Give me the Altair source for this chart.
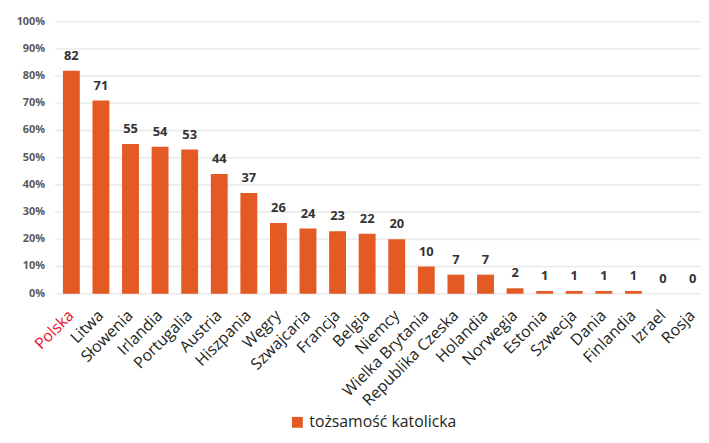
import altair as alt
import pandas as pd

countries = ["Polska", "Litwa", "Słowenia", "Irlandia", "Portugalia", "Austria",
             "Hiszpania", "Węgry", "Szwajcaria", "Francja", "Belgia", "Niemcy",
             "Wielka Brytania", "Republika Czeska", "Holandia", "Norwegia",
             "Estonia", "Szwecja", "Dania", "Finlandia", "Izrael", "Rosja"]
values = [82, 71, 55, 54, 53, 44, 37, 26, 24, 23, 22, 20, 10, 7, 7, 2, 1, 1, 1, 1, 0, 0]
series_name = "tożsamość katolicka"
y_ticks = [0, 10, 20, 30, 40, 50, 60, 70, 80, 90, 100]
y_tick_labels = ["0%", "10%", "20%", "30%", "40%", "50%", "60%", "70%", "80%", "90%", "100%"]

df = pd.DataFrame({"kraj": countries, "wartosc": values, "seria": series_name})
ticks_df = pd.DataFrame({"wartosc": y_ticks, "etykieta": y_tick_labels})

BAR = "#e35a24"
yscale = alt.Scale(domain=[0, 100], nice=False)

grid = alt.Chart(ticks_df).mark_rule(color="#eeeeee", strokeWidth=2).encode(
    y=alt.Y("wartosc:Q", scale=yscale, axis=None),
    x=alt.value(-8), x2=alt.value(645),
)

ylabels = alt.Chart(ticks_df).mark_text(align="right", baseline="middle", font="Open Sans",
                                        fontWeight="bold", fontSize=11, color="#595959").encode(
    y=alt.Y("wartosc:Q", scale=yscale, axis=None),
    x=alt.value(-18),
    text="etykieta:N",
)

base = alt.Chart(df).encode(
    x=alt.X("kraj:N", sort=None, title=None,
            scale=alt.Scale(paddingInner=0.43, paddingOuter=0),
            axis=alt.Axis(labelAngle=-45, labelAlign="right", labelBaseline="middle",
                          labelPadding=19, labelFontSize=16, labelFont="Open Sans",
                          labelColor={"expr": "datum.value == 'Polska' ? '#e8102a' : '#231f20'"},
                          ticks=False, domain=False, grid=False, labelOverlap=False)),
    y=alt.Y("wartosc:Q", title=None, scale=yscale, axis=None),
)

bars = base.mark_bar(color=BAR).encode(
    color=alt.Color("seria:N", title=None,
                    scale=alt.Scale(range=[BAR]),
                    legend=alt.Legend(orient="none", legendX=229, legendY=397,
                                      symbolType="square", symbolSize=121,
                                      symbolOpacity=1,
                                      labelFont="Open Sans", labelFontSize=16,
                                      labelColor="#231f20", labelLimit=300)),
)

labels = base.mark_text(dy=-11, baseline="alphabetic", font="Open Sans",
                        fontWeight="bold", fontSize=13, color="#333333").encode(
    text=alt.Text("wartosc:Q"),
)

chart = alt.layer(grid, ylabels, bars, labels).properties(
    width=645, height=275,
    autosize=alt.AutoSizeParams(type="none"),
    padding={"left": 55.5, "top": 11.5, "right": 0, "bottom": 140.5},
).configure_view(stroke=None)

chart.save("out.html", embed_options={"renderer": "svg", "actions": False})
